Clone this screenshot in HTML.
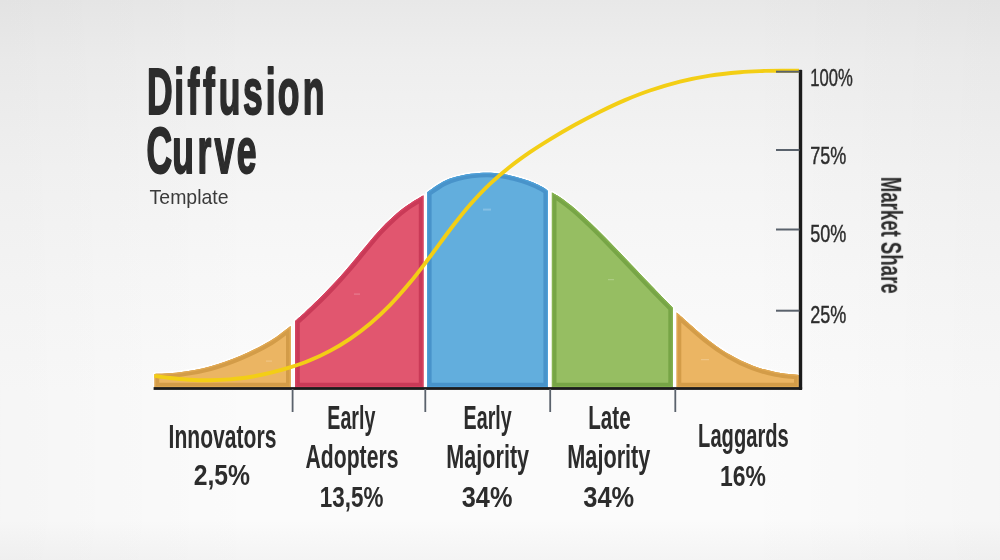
<!DOCTYPE html>
<html lang="en"><head><meta charset="utf-8"><title>Diffusion Curve Template</title>
<style>
html,body{margin:0;padding:0;}
body{width:1000px;height:560px;overflow:hidden;background:#f4f4f4;font-family:"Liberation Sans",sans-serif;}
svg{display:block;}
svg text{font-family:"Liberation Sans",sans-serif;}
</style></head><body>
<svg width="1000" height="560" viewBox="0 0 1000 560">
<defs>
<filter id="gray" x="0" y="0" width="1000" height="560" filterUnits="userSpaceOnUse" color-interpolation-filters="sRGB"><feOffset dx="0" dy="0"/></filter>
<linearGradient id="bg" gradientUnits="userSpaceOnUse" x1="0" y1="0" x2="0" y2="560">
<stop offset="0" stop-color="#e8e8e8"/><stop offset="0.107" stop-color="#eeeeee"/><stop offset="0.30" stop-color="#f4f4f4"/><stop offset="0.50" stop-color="#f8f8f8"/><stop offset="0.70" stop-color="#fbfbfb"/><stop offset="0.93" stop-color="#fbfbfb"/><stop offset="1" stop-color="#f4f4f4"/>
</linearGradient>
<linearGradient id="bg2" gradientUnits="userSpaceOnUse" x1="0" y1="0" x2="1000" y2="0">
<stop offset="0" stop-color="#000000" stop-opacity="0.022"/><stop offset="0.26" stop-color="#000000" stop-opacity="0"/><stop offset="0.74" stop-color="#000000" stop-opacity="0"/><stop offset="1" stop-color="#000000" stop-opacity="0.022"/>
</linearGradient>
<path id="p-inn" d="M154.6 387.4 L154.6 374.0 C158.8 373.7 170.8 373.6 180.0 372.3 C189.2 371.1 200.0 369.2 210.0 366.5 C220.0 363.8 230.0 360.2 240.0 356.0 C250.0 351.8 261.6 346.0 270.0 341.0 C278.4 336.0 287.2 328.5 290.6 326.0 L290.6 387.4 Z"/>
<clipPath id="c-inn"><use href="#p-inn"/></clipPath>
<path id="p-ea" d="M295.2 387.4 L295.2 320.9 C296.7 319.6 300.4 316.5 304.3 312.9 C308.2 309.3 313.8 304.0 318.6 299.3 C323.4 294.6 328.1 289.7 332.9 284.6 C337.6 279.5 342.2 274.3 347.1 268.7 C352.0 263.1 356.8 257.1 362.0 250.8 C367.2 244.6 373.5 236.8 378.6 231.2 C383.8 225.6 388.1 221.3 392.9 217.0 C397.6 212.7 402.4 209.0 407.1 205.6 C411.9 202.2 418.7 198.3 421.4 196.6 C424.1 194.9 423.1 195.8 423.4 195.6 L423.4 387.4 Z"/>
<clipPath id="c-ea"><use href="#p-ea"/></clipPath>
<path id="p-em" d="M427.0 387.4 L427.0 192.4 C429.6 190.6 437.9 184.4 442.9 181.8 C447.9 179.2 452.3 177.9 457.0 176.6 C461.7 175.3 466.0 174.5 471.0 173.8 C476.0 173.2 482.0 172.7 487.0 172.7 C492.0 172.7 496.4 173.2 501.0 173.8 C505.6 174.4 509.7 175.2 514.3 176.4 C518.9 177.6 523.8 179.0 528.6 180.8 C533.4 182.6 539.7 185.5 542.9 187.2 C546.1 188.9 547.1 190.4 548.0 191.0 L548.0 387.4 Z"/>
<clipPath id="c-em"><use href="#p-em"/></clipPath>
<path id="p-lm" d="M551.9 387.4 L551.9 192.4 C553.2 193.2 556.1 194.6 560.0 197.3 C563.9 200.0 570.0 204.6 575.0 208.8 C580.0 213.0 585.0 217.8 590.0 222.5 C595.0 227.2 600.0 232.2 605.0 237.3 C610.0 242.4 615.0 247.6 620.0 252.8 C625.0 258.0 630.0 263.2 635.0 268.5 C640.0 273.8 645.0 279.1 650.0 284.3 C655.0 289.5 661.2 295.9 665.0 299.8 C668.8 303.7 671.6 306.5 672.9 307.9 L672.9 387.4 Z"/>
<clipPath id="c-lm"><use href="#p-lm"/></clipPath>
<path id="p-lag" d="M676.7 387.4 L676.7 312.5 C681.7 316.8 697.6 331.4 706.4 338.4 C715.2 345.4 722.0 350.0 729.7 354.6 C737.5 359.2 745.2 362.9 752.9 365.8 C760.6 368.7 768.5 370.7 776.1 372.2 C783.7 373.7 794.9 374.5 798.6 375.0 L798.6 387.4 Z"/>
<clipPath id="c-lag"><use href="#p-lag"/></clipPath>
</defs>
<rect width="1000" height="560" fill="url(#bg)"/>
<rect width="1000" height="560" fill="url(#bg2)"/>
<g id="title" filter="url(#gray)">
<text transform="scale(0.55 1)" x="267.2 316.9 340.8 368.9 397.7 441.8 483.1 504.8 550.4" y="114.0" font-size="64.5" font-weight="bold" fill="#2c2c2c" stroke="#2c2c2c" stroke-width="2" stroke-linejoin="round">Diffusion</text>
<text transform="scale(0.55 1)" x="266.3 313.2 359.3 390.0 430.5" y="172.6" font-size="64.5" font-weight="bold" fill="#2c2c2c" stroke="#2c2c2c" stroke-width="2" stroke-linejoin="round">Curve</text>
<text x="149.6" y="204.0" font-size="19.8" font-weight="normal" fill="#3a3a3a" textLength="79.0" lengthAdjust="spacingAndGlyphs" >Template</text>
</g>
<g id="segments">
<use href="#p-inn" fill="none" stroke="#ffffff" stroke-width="3.4" stroke-linejoin="round"/>
<use href="#p-inn" fill="#EBB563"/>
<use href="#p-inn" fill="none" stroke="#D39C48" stroke-width="9.2" stroke-linejoin="miter" clip-path="url(#c-inn)"/>
<use href="#p-inn" fill="none" stroke="#E1A953" stroke-width="2.4" stroke-linejoin="miter" clip-path="url(#c-inn)"/>
<use href="#p-ea" fill="none" stroke="#ffffff" stroke-width="3.4" stroke-linejoin="round"/>
<use href="#p-ea" fill="#E1566F"/>
<use href="#p-ea" fill="none" stroke="#C93A57" stroke-width="9.2" stroke-linejoin="miter" clip-path="url(#c-ea)"/>
<use href="#p-ea" fill="none" stroke="#D84463" stroke-width="2.4" stroke-linejoin="miter" clip-path="url(#c-ea)"/>
<use href="#p-em" fill="none" stroke="#ffffff" stroke-width="3.4" stroke-linejoin="round"/>
<use href="#p-em" fill="#62AEDD"/>
<use href="#p-em" fill="none" stroke="#4893CA" stroke-width="9.2" stroke-linejoin="miter" clip-path="url(#c-em)"/>
<use href="#p-em" fill="none" stroke="#4FA0D8" stroke-width="2.4" stroke-linejoin="miter" clip-path="url(#c-em)"/>
<use href="#p-lm" fill="none" stroke="#ffffff" stroke-width="3.4" stroke-linejoin="round"/>
<use href="#p-lm" fill="#96BE62"/>
<use href="#p-lm" fill="none" stroke="#77A546" stroke-width="9.2" stroke-linejoin="miter" clip-path="url(#c-lm)"/>
<use href="#p-lm" fill="none" stroke="#86B351" stroke-width="2.4" stroke-linejoin="miter" clip-path="url(#c-lm)"/>
<use href="#p-lag" fill="none" stroke="#ffffff" stroke-width="3.4" stroke-linejoin="round"/>
<use href="#p-lag" fill="#EBB563"/>
<use href="#p-lag" fill="none" stroke="#D39C48" stroke-width="9.2" stroke-linejoin="miter" clip-path="url(#c-lag)"/>
<use href="#p-lag" fill="none" stroke="#E1A953" stroke-width="2.4" stroke-linejoin="miter" clip-path="url(#c-lag)"/>
</g>
<g id="marks" fill="#ffffff" opacity="0.22">
<rect x="266" y="360.5" width="6" height="1.2"/><rect x="354" y="293.5" width="6" height="1.2"/><rect x="483" y="208.6" width="8" height="2"/><rect x="608" y="279" width="6" height="1.2"/><rect x="701" y="359" width="8" height="1.2"/>
</g>
<path id="scurve" d="M154.4 375.8 C157.0 376.2 164.1 377.3 170.0 378.0 C175.9 378.7 183.3 379.4 190.0 379.8 C196.7 380.2 203.3 380.4 210.0 380.3 C216.7 380.2 223.3 379.9 230.0 379.4 C236.7 378.8 243.3 378.1 250.0 377.0 C256.7 375.9 263.3 374.5 270.0 372.9 C276.7 371.3 283.3 369.5 290.0 367.4 C296.7 365.3 303.3 363.1 310.0 360.3 C316.7 357.6 323.3 354.5 330.0 350.9 C336.7 347.3 343.3 343.3 350.0 338.8 C356.7 334.3 363.3 329.3 370.0 323.7 C376.7 318.1 383.3 312.0 390.0 305.1 C396.7 298.2 403.3 290.7 410.0 282.6 C416.7 274.6 423.3 265.6 430.0 256.8 C436.7 248.0 443.3 238.4 450.0 229.7 C456.7 221.0 463.3 212.4 470.0 204.8 C476.7 197.2 483.3 190.2 490.0 183.9 C496.7 177.6 503.3 172.1 510.0 166.8 C516.7 161.5 523.3 156.8 530.0 152.2 C536.7 147.6 542.5 144.0 550.0 139.4 C557.5 134.8 566.7 129.4 575.0 124.8 C583.3 120.2 591.7 115.8 600.0 111.7 C608.3 107.6 616.7 103.6 625.0 100.1 C633.3 96.6 640.8 93.6 650.0 90.5 C659.2 87.4 670.0 84.1 680.0 81.6 C690.0 79.1 700.0 77.2 710.0 75.6 C720.0 74.0 730.8 73.0 740.0 72.2 C749.2 71.4 758.0 71.2 765.0 70.9 C772.0 70.7 776.3 70.7 782.0 70.7 C787.7 70.7 796.2 70.7 799.0 70.7" fill="none" stroke="#F3CE15" stroke-width="3.9" stroke-linecap="butt" stroke-linejoin="round"/>
<g id="axes">
<rect x="153.6" y="387.1" width="648.5" height="2.8" fill="#1b1b1b"/>
<rect x="798.8" y="69.8" width="3.4" height="320.1" rx="0.8" fill="#1b1b1b"/>
<rect x="776" y="70.7" width="23.5" height="2" fill="#5a626c"/>
<rect x="776" y="149.0" width="23.5" height="2" fill="#5a626c"/>
<rect x="776" y="228.5" width="23.5" height="2" fill="#5a626c"/>
<rect x="776" y="309.7" width="23.5" height="2" fill="#5a626c"/>
<rect x="291.7" y="389" width="1.8" height="23" fill="#5a626c"/>
<rect x="424.4" y="389" width="1.8" height="23" fill="#5a626c"/>
<rect x="549.3" y="389" width="1.8" height="23" fill="#5a626c"/>
<rect x="674.4" y="389" width="1.8" height="23" fill="#5a626c"/>
</g>
<g id="labels" filter="url(#gray)">
<text x="168.6" y="447.5" font-size="33.0" font-weight="bold" fill="#2c2c2c" textLength="107.8" lengthAdjust="spacingAndGlyphs" >Innovators</text>
<text x="193.7" y="485.3" font-size="29.8" font-weight="bold" fill="#2c2c2c" textLength="56.4" lengthAdjust="spacingAndGlyphs" >2,5%</text>
<text x="327.3" y="428.8" font-size="33.0" font-weight="bold" fill="#2c2c2c" textLength="48.1" lengthAdjust="spacingAndGlyphs" >Early</text>
<text x="305.6" y="468.0" font-size="33.0" font-weight="bold" fill="#2c2c2c" textLength="92.8" lengthAdjust="spacingAndGlyphs" >Adopters</text>
<text x="319.8" y="506.6" font-size="29.8" font-weight="bold" fill="#2c2c2c" textLength="63.6" lengthAdjust="spacingAndGlyphs" >13,5%</text>
<text x="463.6" y="428.8" font-size="33.0" font-weight="bold" fill="#2c2c2c" textLength="48.1" lengthAdjust="spacingAndGlyphs" >Early</text>
<text x="446.3" y="468.0" font-size="33.0" font-weight="bold" fill="#2c2c2c" textLength="82.8" lengthAdjust="spacingAndGlyphs" >Majority</text>
<text x="461.8" y="506.6" font-size="29.8" font-weight="bold" fill="#2c2c2c" textLength="50.6" lengthAdjust="spacingAndGlyphs" >34%</text>
<text x="588.3" y="429.0" font-size="33.0" font-weight="bold" fill="#2c2c2c" textLength="42.3" lengthAdjust="spacingAndGlyphs" >Late</text>
<text x="567.3" y="468.0" font-size="33.0" font-weight="bold" fill="#2c2c2c" textLength="83.1" lengthAdjust="spacingAndGlyphs" >Majority</text>
<text x="583.3" y="506.7" font-size="29.8" font-weight="bold" fill="#2c2c2c" textLength="50.9" lengthAdjust="spacingAndGlyphs" >34%</text>
<text x="698.1" y="446.8" font-size="33.0" font-weight="bold" fill="#2c2c2c" textLength="90.7" lengthAdjust="spacingAndGlyphs" >Laggards</text>
<text x="719.9" y="485.5" font-size="29.8" font-weight="bold" fill="#2c2c2c" textLength="45.9" lengthAdjust="spacingAndGlyphs" >16%</text>
<text x="810.3" y="86.0" font-size="23.2" font-weight="normal" fill="#2c2c2c" textLength="42.6" lengthAdjust="spacingAndGlyphs" stroke="#2c2c2c" stroke-width="0.4">100%</text>
<text x="810.3" y="163.6" font-size="23.2" font-weight="normal" fill="#2c2c2c" textLength="36.1" lengthAdjust="spacingAndGlyphs" stroke="#2c2c2c" stroke-width="0.4">75%</text>
<text x="810.3" y="241.6" font-size="23.2" font-weight="normal" fill="#2c2c2c" textLength="36.1" lengthAdjust="spacingAndGlyphs" stroke="#2c2c2c" stroke-width="0.4">50%</text>
<text x="810.3" y="323.0" font-size="23.2" font-weight="normal" fill="#2c2c2c" textLength="36.1" lengthAdjust="spacingAndGlyphs" stroke="#2c2c2c" stroke-width="0.4">25%</text>
<text transform="translate(881.2 176.8) rotate(90)" x="0" y="0" font-size="29.5" font-weight="bold" fill="#2c2c2c" textLength="116.8" lengthAdjust="spacingAndGlyphs">Market Share</text>
</g>
</svg>
</body></html>
